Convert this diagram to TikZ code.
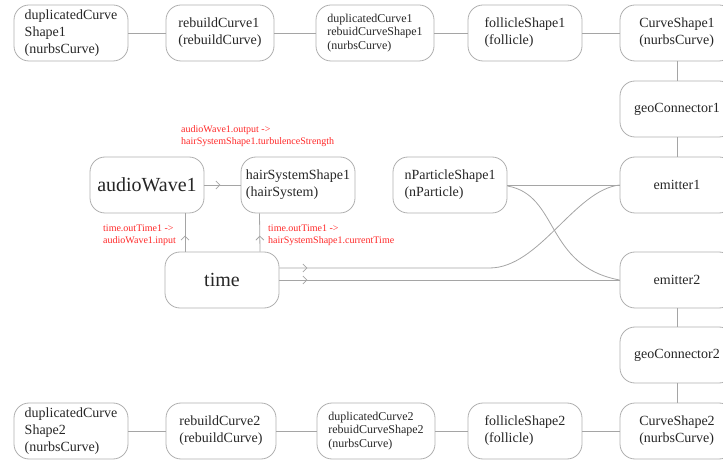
\documentclass[tikz,border=0pt]{standalone}
\usepackage{fontspec}
\setmainfont{Liberation Serif}
\usepackage{tikz}
\usetikzlibrary{arrows.meta,calc,decorations.markings}
\definecolor{boxgray}{RGB}{175,175,175}
\definecolor{linegray}{RGB}{165,165,165}
\definecolor{lblred}{RGB}{255,40,40}

\begin{document}
\begin{tikzpicture}[x=1pt,y=-1pt,
  box/.style={draw=boxgray, line width=0.8pt, rounded corners=15pt, minimum width=114pt,
    minimum height=56pt, align=left, inner sep=2pt, text=black!85,
    font=\fontsize{14}{17}\selectfont},
  smallbox/.style={box, font=\fontsize{12}{13.5}\selectfont},
  bigbox/.style={box, font=\fontsize{20}{24}\selectfont},
  conn/.style={color=linegray, line width=0.8pt},
  flow/.style={postaction={decorate}, decoration={markings,
    mark=at position #1 with {\arrow{Straight Barb[length=4pt,width=8pt]}}}},
  lbl/.style={text=lblred, align=left, inner sep=0pt, font=\fontsize{10}{12}\selectfont}]
\useasboundingbox (0,0) rectangle (723,462);

% top row
\node[box] (dupShapeA) at (71,33) {duplicatedCurve\\Shape1\\(nurbsCurve)};
\node[box, minimum width=108pt] (rebuildA) at (220,33) {rebuildCurve1\\(rebuildCurve)};
\node[smallbox, minimum width=118pt] (dupCurveA) at (375,33) {duplicatedCurve1\\rebuidCurveShape1\\(nurbsCurve)};
\node[box] (follicleA) at (525,33) {follicleShape1\\(follicle)};
\node[box] (curveA) at (677,33) {CurveShape1\\(nurbsCurve)};

% right column
\node[box] (geoA) at (677,109) {geoConnector1};
\node[box] (emitterA) at (677,185) {emitter1};
\node[box] (emitterB) at (677,280) {emitter2};
\node[box] (geoB) at (677,355) {geoConnector2};

% bottom row
\node[box] (dupShapeB) at (71,431) {duplicatedCurve\\Shape2\\(nurbsCurve)};
\node[box, minimum width=110pt] (rebuildB) at (221,431) {rebuildCurve2\\(rebuildCurve)};
\node[smallbox, minimum width=118pt] (dupCurveB) at (376,431) {duplicatedCurve2\\rebuidCurveShape2\\(nurbsCurve)};
\node[box] (follicleB) at (525,431) {follicleShape2\\(follicle)};
\node[box] (curveB) at (677,431) {CurveShape2\\(nurbsCurve)};

% middle
\node[bigbox] (audioWave) at (147,185) {audioWave1};
\node[box] (hairSystem) at (298,185) {hairSystemShape1\\(hairSystem)};
\node[box] (nParticle) at (450,185) {nParticleShape1\\(nParticle)};
\node[bigbox] (time) at (222,280) {time};

\node[lbl, anchor=north west] (lblTurb) at (181,125) {audioWave1.output ->\\hairSystemShape1.turbulenceStrength};
\node[lbl, anchor=north west] (lblInput) at (103,225) {time.outTime1 ->\\audioWave1.input};
\node[lbl, anchor=north west] (lblTime) at (268,225) {time.outTime1 ->\\hairSystemShape1.currentTime};

\draw[conn] (dupShapeA) -- (rebuildA) -- (dupCurveA) -- (follicleA) -- (curveA);
\draw[conn] (curveA) -- (geoA) -- (emitterA);
\draw[conn] (emitterB) -- (geoB) -- (curveB);
\draw[conn] (dupShapeB) -- (rebuildB) -- (dupCurveB) -- (follicleB) -- (curveB);

\draw[conn, flow=16pt] (audioWave) -- (hairSystem);
\draw[conn, flow=16pt] ([xshift=-37pt]time.north) -- ([xshift=38pt]audioWave.south);
\draw[conn, flow=16pt] ([xshift=38pt]time.north) -- ([xshift=-38.5pt]hairSystem.south);
\draw[conn, flow=28pt] ([yshift=12pt]time.east) -- ++(210,0)
  .. controls +(50,0) and +(-45,5) .. (emitterA.west);
\draw[conn, flow=28pt] (time.east) -- (emitterB.west);
\draw[conn] (nParticle.east) -- (emitterA.west);
\draw[conn] ([yshift=-1pt]nParticle.east) .. controls +(52,9) and +(-75,-14) .. (emitterB.west);
\end{tikzpicture}
\end{document}
